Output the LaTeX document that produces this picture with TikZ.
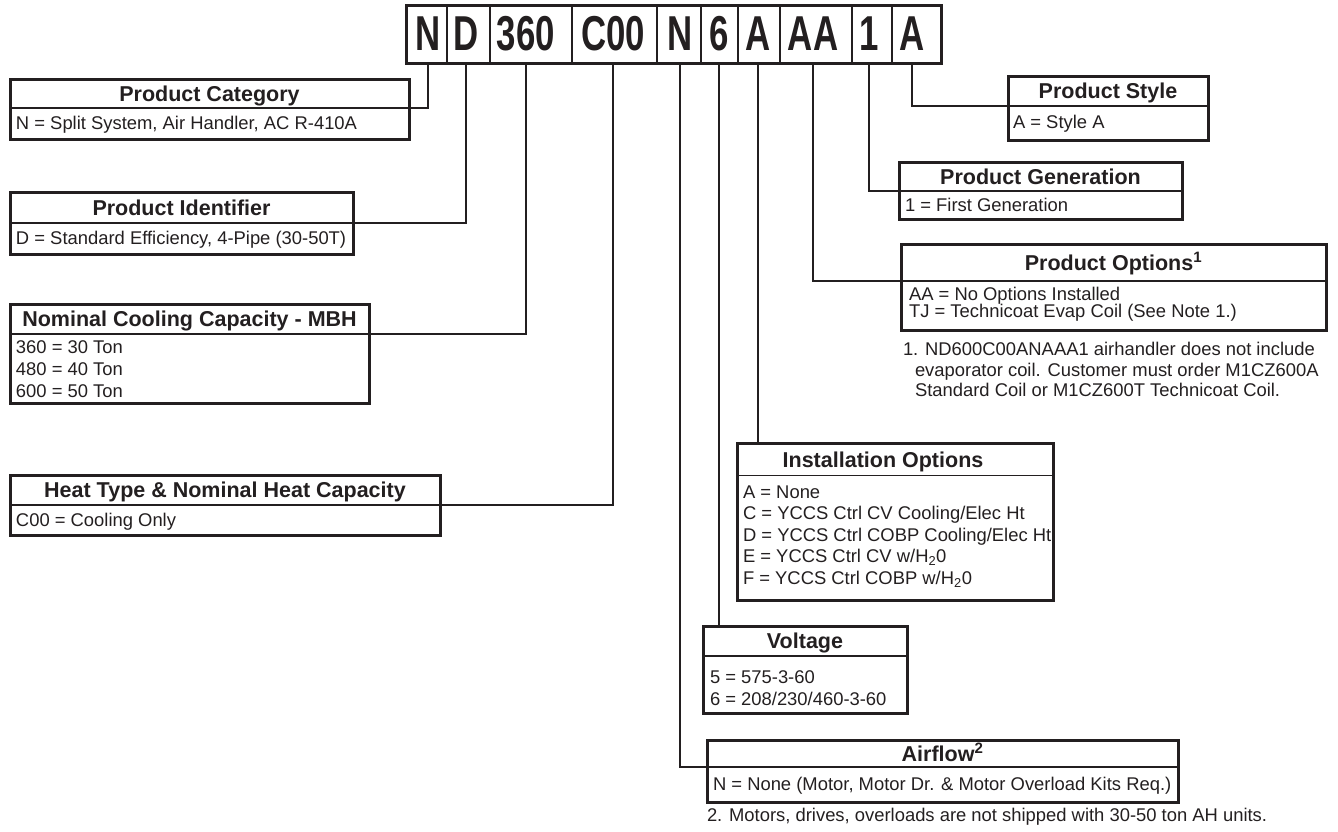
\documentclass[tikz,border=0pt]{standalone}
\usepackage{fontspec}
\setmainfont{Liberation Sans}
\usepackage{graphicx}
\definecolor{ink}{HTML}{231F20}
\newcommand\hdrfont{\bfseries\fontsize{21.5}{24}\selectfont}
\newcommand\txtfont{\fontsize{18.4}{21}\selectfont}
\newcommand\codefont{\bfseries\fontsize{49}{52}\selectfont}
\newcommand\cond[1]{\scalebox{0.71}[1]{#1}}
\begin{document}
\begin{tikzpicture}[x=1pt,y=-1pt,
  every node/.style={inner sep=0pt, outer sep=0pt, text=ink},
  hdr/.style={font=\hdrfont, anchor=base},
  txt/.style={font=\txtfont, anchor=base west},
  code/.style={font=\codefont, anchor=base},
  frame/.style={draw=ink, line width=3pt, anchor=north west},
  band/.style={anchor=north west},
  rule/.style={draw=ink, line width=1.3pt},
  conn/.style={draw=ink, line width=1.3pt},
]
\useasboundingbox (0,0) rectangle (1338,831);

% ---- code bar ----
\node[frame, minimum width=535, minimum height=58] (bar) at (406,5) {};
\foreach \x in {447,490,572,657,701,738,780,852,892}
  \draw[rule] (\x,5) -- (\x,63);
\node[code] (c1) at (428,50) {\cond{N}};
\node[code] (c2) at (466,50) {\cond{D}};
\node[code] (c3) at (526,50) {\cond{360}};
\node[code] (c4) at (613,50) {\cond{C00}};
\node[code] (c5) at (680,50) {\cond{N}};
\node[code] (c6) at (719,50) {\cond{6}};
\node[code] (c7) at (758,50) {\cond{A}};
\node[code] (c8) at (813,50) {\cond{AA}};
\node[code] (c9) at (869,50) {\cond{1}};
\node[code] (c10) at (912,50) {\cond{A}};

% ---- boxes: frame + header band ----
\node[frame, minimum width=399, minimum height=60] (cat) at (10,79) {};
\node[band, minimum width=399, minimum height=29] (catH) at (10,79) {};
\node[frame, minimum width=343, minimum height=62] (pid) at (10,192) {};
\node[band, minimum width=343, minimum height=31] (pidH) at (10,192) {};
\node[frame, minimum width=359, minimum height=99] (nom) at (10,304) {};
\node[band, minimum width=359, minimum height=30] (nomH) at (10,304) {};
\node[frame, minimum width=430, minimum height=60] (heat) at (10,475) {};
\node[band, minimum width=430, minimum height=30] (heatH) at (10,475) {};
\node[frame, minimum width=200, minimum height=64] (sty) at (1008,76) {};
\node[band, minimum width=200, minimum height=30] (styH) at (1008,76) {};
\node[frame, minimum width=283, minimum height=57] (gen) at (899,162) {};
\node[band, minimum width=283, minimum height=29] (genH) at (899,162) {};
\node[frame, minimum width=425, minimum height=86] (opt) at (901,244) {};
\node[band, minimum width=425, minimum height=37] (optH) at (901,244) {};
\node[frame, minimum width=316, minimum height=157] (inst) at (737,443) {};
\node[band, minimum width=316, minimum height=32.5] (instH) at (737,443) {};
\node[frame, minimum width=204, minimum height=87] (volt) at (703,626) {};
\node[band, minimum width=204, minimum height=30] (voltH) at (703,626) {};
\node[frame, minimum width=471, minimum height=62] (air) at (707,740) {};
\node[band, minimum width=471, minimum height=27] (airH) at (707,740) {};

\foreach \b in {catH,pidH,nomH,heatH,styH,genH,optH,instH,voltH,airH}
  \draw[rule] (\b.south west) -- (\b.south east);

% ---- headers ----
\node[hdr] (catT) at (209.5,101.2) {Product Category};
\node[hdr] (pidT) at (181.5,215.2) {Product Identifier};
\node[hdr] (nomT) at (189.5,326.7) {Nominal Cooling Capacity - MBH};
\node[hdr] (heatT) at (225,497.7) {Heat Type \& Nominal Heat Capacity};
\node[hdr] (styT) at (1108,98.7) {Product Style};
\node[hdr] (genT) at (1040.5,184.2) {Product Generation};
\node[hdr] (optT) at (1113.5,270.2) {Product Options\textsuperscript{1}};
\node[hdr] (instT) at (883,467) {Installation Options};
\node[hdr] (voltT) at (805,648.7) {Voltage};
\node[hdr] (airT) at (942.5,761.2) {Airflow\textsuperscript{2}};

% ---- body texts ----
\node[txt] (catL1) at (16,129.6) {N = Split System, Air Handler, AC R-410A};
\node[txt] (pidL1) at (16,244) {D = Standard Efficiency, 4-Pipe (30-50T)};
\node[txt] (nomL1) at (16,353.6) {360 = 30 Ton};
\node[txt] (nomL2) at (16,375.6) {480 = 40 Ton};
\node[txt] (nomL3) at (16,397.6) {600 = 50 Ton};
\node[txt] (heatL1) at (16,526.6) {C00 = Cooling Only};
\node[txt] (styL1) at (1013,128.6) {A = Style A};
\node[txt] (genL1) at (905,211.6) {1 = First Generation};
\node[txt] (optL1) at (909,300) {AA = No Options Installed};
\node[txt] (optL2) at (909,317.6) {TJ = Technicoat Evap Coil (See Note 1.)};
\node[txt] (n1L1) at (903,355.6) {1. ND600C00ANAAA1 airhandler does not include};
\node[txt] (n1L2) at (915,376) {evaporator coil. Customer must order M1CZ600A};
\node[txt] (n1L3) at (915,396.6) {Standard Coil or M1CZ600T Technicoat Coil.};
\node[txt] (instL1) at (743,498.6) {A = None};
\node[txt] (instL2) at (743,519.6) {C = YCCS Ctrl CV Cooling/Elec Ht};
\node[txt] (instL3) at (743,541) {D = YCCS Ctrl COBP Cooling/Elec Ht};
\node[txt] (instL4) at (743,562.6) {E = YCCS Ctrl CV w/H\textsubscript{2}0};
\node[txt] (instL5) at (743,584) {F = YCCS Ctrl COBP w/H\textsubscript{2}0};
\node[txt] (voltL1) at (710,683.6) {5 = 575-3-60};
\node[txt] (voltL2) at (710,705.6) {6 = 208/230/460-3-60};
\node[txt] (airL1) at (713,790.6) {N = None (Motor, Motor Dr. \& Motor Overload Kits Req.)};
\node[txt] (n2L1) at (707,821.6) {2. Motors, drives, overloads are not shipped with 30-50 ton AH units.};

% ---- connectors ----
\draw[conn] (c1 |- bar.south) |- (catH.south east);
\draw[conn] (c2 |- bar.south) |- (pidH.south east);
\draw[conn] (c3 |- bar.south) |- (nomH.south east);
\draw[conn] (c4 |- bar.south) |- (heatH.south east);
\draw[conn] (c5 |- bar.south) |- (airH.south west);
\draw[conn] (c6 |- bar.south) -- (c6 |- volt.north);
\draw[conn] (c7 |- bar.south) -- (c7 |- inst.north);
\draw[conn] (c8 |- bar.south) |- (optH.south west);
\draw[conn] (c9 |- bar.south) |- (genH.south west);
\draw[conn] (c10 |- bar.south) |- (styH.south west);
\end{tikzpicture}
\end{document}
